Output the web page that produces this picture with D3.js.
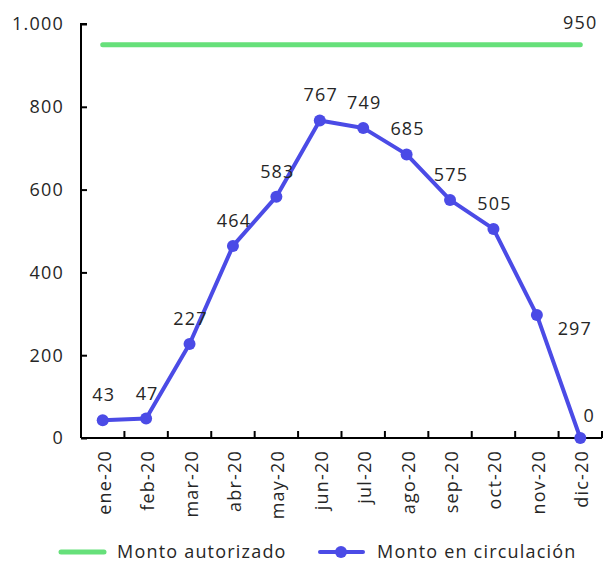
<!DOCTYPE html>
<html><head><meta charset="utf-8">
<script src="https://cdn.jsdelivr.net/npm/d3@7"></script>
<style>body{margin:0;background:#fff}svg{display:block}text{font-family:"Open Sans","Noto Sans",sans-serif;letter-spacing:1.2px}</style>
</head><body>
<svg id="c" width="603" height="564"></svg>
<script>
const months = ["ene-20","feb-20","mar-20","abr-20","may-20","jun-20","jul-20","ago-20","sep-20","oct-20","nov-20","dic-20"];
const circulacion = [43,47,227,464,583,767,749,685,575,505,297,0];
const autorizado = [950,950,950,950,950,950,950,950,950,950,950,950];
const yTicks = [0,200,400,600,800,1000];
const seriesNames = ["Monto autorizado","Monto en circulación"];

const svg = d3.select("#c");
const L=81, R=602, T=24, B=438;
const x = d3.scaleBand().domain(months).range([L,R]);
const y = d3.scaleLinear().domain([0,1000]).range([B,T]);
const cx = d => x(d)+x.bandwidth()/2;
const fmt = v => d3.format(",")(v).replace(/,/g,".");
const txtCol="#262626", fs=18;

// y axis
const ya = svg.append("g").attr("transform",`translate(${L},0)`)
  .call(d3.axisRight(y).tickValues(yTicks).tickSize(6).tickFormat(""));
ya.select(".domain").attr("stroke","#000").attr("stroke-width",2).attr("d",`M6,${T}H0V${B}`);
ya.selectAll(".tick line").attr("stroke","#000").attr("stroke-width",2);
svg.append("g").selectAll("text").data(yTicks).join("text")
  .attr("x",64).attr("y",d=>y(d)).attr("dy","0.35em").attr("text-anchor","end")
  .attr("font-size",fs).attr("fill",txtCol).text(fmt);

// x axis
const xa = svg.append("g").attr("transform",`translate(0,${B})`)
  .call(d3.axisTop(x).tickSize(0).tickFormat(""));
xa.select(".domain").attr("stroke","#000").attr("stroke-width",2).attr("d",`M${L},0H${R}`);
svg.append("g").selectAll("line").data(d3.range(1,13)).join("line")
  .attr("x1",i=>L+i*x.step()).attr("x2",i=>L+i*x.step()).attr("y1",B).attr("y2",B-7)
  .attr("stroke","#000").attr("stroke-width",2);
svg.append("g").selectAll("text").data(months).join("text")
  .attr("transform",d=>`translate(${cx(d)+8},${B+12}) rotate(-90)`)
  .attr("text-anchor","end").attr("font-size",fs).attr("fill",txtCol).text(d=>d);

// green line
const green="#66e07a", blue="#4b4be6";
const line = d3.line().x((d,i)=>cx(months[i])).y(d=>y(d));
svg.append("path").datum(autorizado).attr("d",line).attr("fill","none")
  .attr("stroke",green).attr("stroke-width",5).attr("stroke-linecap","round");
svg.append("text").attr("x",cx(months[11])).attr("y",y(950)-16).attr("text-anchor","middle")
  .attr("font-size",fs).attr("fill",txtCol).text(fmt(autorizado[11]));

// blue line
svg.append("path").datum(circulacion).attr("d",line).attr("fill","none")
  .attr("stroke",blue).attr("stroke-width",4).attr("stroke-linejoin","round");
svg.append("g").selectAll("circle").data(circulacion).join("circle")
  .attr("cx",(d,i)=>cx(months[i])).attr("cy",d=>y(d)).attr("r",6).attr("fill",blue);
const off = i => i===10 ? [38,20] : i===11 ? [9,-16] : [1,-19];
svg.append("g").selectAll("text").data(circulacion).join("text")
  .attr("x",(d,i)=>cx(months[i])+off(i)[0]).attr("y",(d,i)=>y(d)+off(i)[1])
  .attr("text-anchor","middle").attr("font-size",fs).attr("fill",txtCol).text(fmt);

// legend
const lg = svg.append("g");
lg.append("line").attr("x1",61).attr("x2",104).attr("y1",552).attr("y2",552).attr("stroke",green).attr("stroke-width",5).attr("stroke-linecap","round");
lg.append("text").attr("x",117).attr("y",552).attr("dy","0.35em").attr("font-size",fs).attr("fill",txtCol).text(seriesNames[0]);
lg.append("line").attr("x1",320).attr("x2",363).attr("y1",552).attr("y2",552).attr("stroke",blue).attr("stroke-width",4).attr("stroke-linecap","round");
lg.append("circle").attr("cx",341).attr("cy",552).attr("r",6).attr("fill",blue);
lg.append("text").attr("x",377).attr("y",552).attr("dy","0.35em").attr("font-size",fs).attr("fill",txtCol).text(seriesNames[1]);
</script>
</body></html>
